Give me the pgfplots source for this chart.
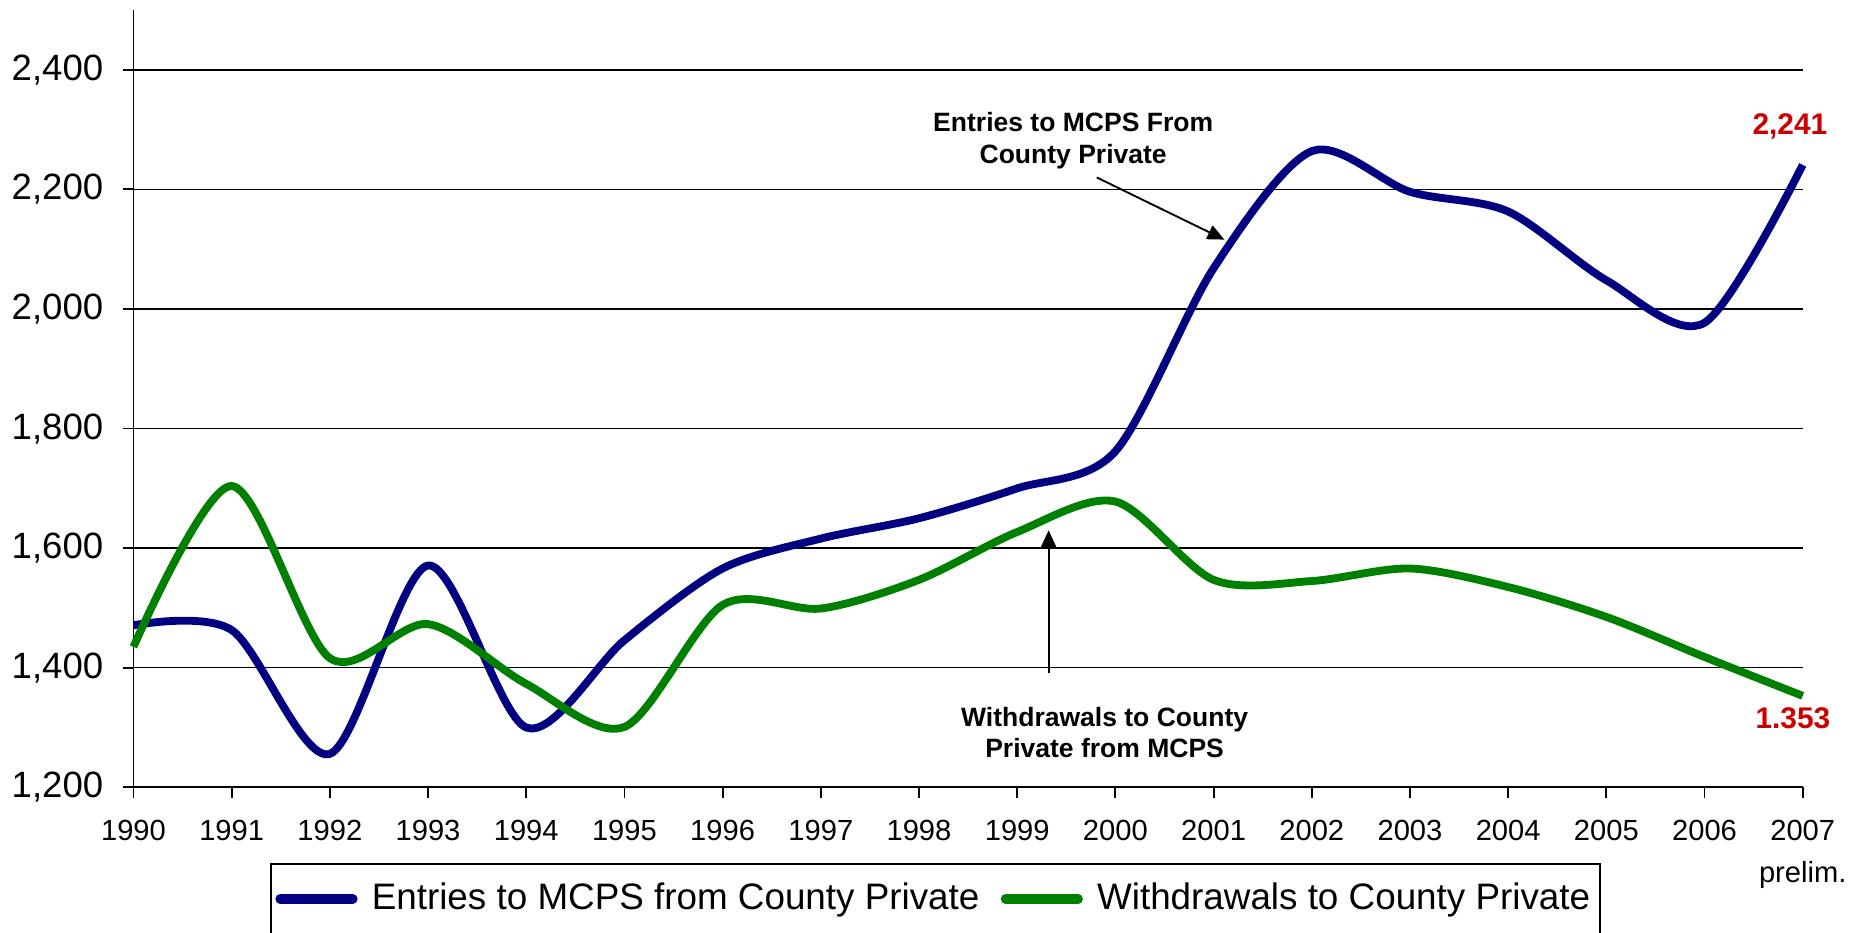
\documentclass[border=0pt]{standalone}
\usepackage{fontspec}
\setmainfont{Liberation Sans}
\usepackage{pgfplots}
\pgfplotsset{compat=1.18}
\usetikzlibrary{arrows.meta}
\definecolor{entblue}{RGB}{0,0,128}
\definecolor{wdgreen}{RGB}{0,128,0}
\definecolor{lblred}{RGB}{204,0,0}
\begin{document}
\begin{tikzpicture}[x=1pt,y=1pt]
\begin{axis}[
  at={(35.75pt,38.75pt)}, anchor=south west,
  scale only axis, width=447.03pt, height=208.17pt,
  xmin=1990, xmax=2007, ymin=1200, ymax=2500,
  axis x line*=bottom, axis y line*=left,
  axis line style={black, line width=0.5pt},
  xtick={1990,1991,...,2007},
  xticklabels={1990,1991,1992,1993,1994,1995,1996,1997,1998,1999,2000,2001,2002,2003,2004,2005,2006,{2007\\prelim.}},
  ytick={1200,1400,1600,1800,2000,2200,2400},
  yticklabels={{1,200},{1,400},{1,600},{1,800},{2,000},{2,200},{2,400}},
  ymajorgrids, major grid style={black, line width=0.4pt},
  tick align=outside, major tick length=2.8pt,
  tick style={black, line width=0.5pt},
  xticklabel style={font=\fontsize{7.8}{11.3}\selectfont, align=center, inner sep=0pt, yshift=-5.85pt},
  yticklabel style={font=\fontsize{9.8}{11}\selectfont, inner sep=0pt, xshift=-5.1pt},
  clip=false,
  legend columns=2,
  legend cell align=left,
  legend style={at={(axis description cs:0.0818,-0.0977)}, anchor=north west, draw=black, line width=0.5pt,
    inner xsep=1.2pt, inner ysep=3.5pt, font=\fontsize{9.86}{11}\selectfont,
    nodes={inner sep=1.5pt},
    /tikz/every odd column/.append style={column sep=2.3pt},
    /tikz/every even column/.append style={column sep=4.2pt}},
  legend image code/.code={\draw[#1, line width=2.5pt, line cap=round] (1pt,0pt) -- (20.5pt,0pt);},
]
\addplot[entblue, line width=2.1pt, smooth, line join=round] coordinates {
(1990,1471) (1991,1463) (1992,1256) (1993,1571) (1994,1300) (1995,1446)
(1996,1566) (1997,1616) (1998,1650) (1999,1700) (2000,1762) (2001,2068)
(2002,2264) (2003,2196) (2004,2163) (2005,2048) (2006,1977) (2007,2241)};
\addlegendentry{Entries to MCPS from County Private}
\addplot[wdgreen, line width=2.1pt, smooth, line join=round] coordinates {
(1990,1435) (1991,1704) (1992,1416) (1993,1473) (1994,1373) (1995,1301)
(1996,1505) (1997,1499) (1998,1547) (1999,1627) (2000,1678) (2001,1547)
(2002,1545) (2003,1566) (2004,1535) (2005,1485) (2006,1418) (2007,1353)};
\addlegendentry{Withdrawals to County Private}
\node[font=\bfseries\fontsize{7.1}{8.5}\selectfont, align=center] at (axis cs:1999.57,2281) {Entries to MCPS From\\County Private};
\draw[-{Triangle[length=4.5pt,width=4pt]}, line width=0.5pt] (axis cs:1999.81,2220) -- (axis cs:2001.11,2116);
\node[font=\bfseries\fontsize{7.1}{8.5}\selectfont, align=center] at (axis cs:1999.89,1291.5) {Withdrawals to County\\Private from MCPS};
\draw[-{Triangle[length=4.5pt,width=4pt]}, line width=0.5pt] (axis cs:1999.32,1391) -- (axis cs:1999.32,1630);
\node[text=lblred, font=\bfseries\fontsize{8}{9}\selectfont] at (axis cs:2006.87,2304.6) {2,241};
\node[text=lblred, font=\bfseries\fontsize{8}{9}\selectfont] at (axis cs:2006.9,1315.3) {1.353};
\end{axis}
\pgfresetboundingbox
\path (0,0) rectangle (500,249.6);
\end{tikzpicture}
\end{document}
